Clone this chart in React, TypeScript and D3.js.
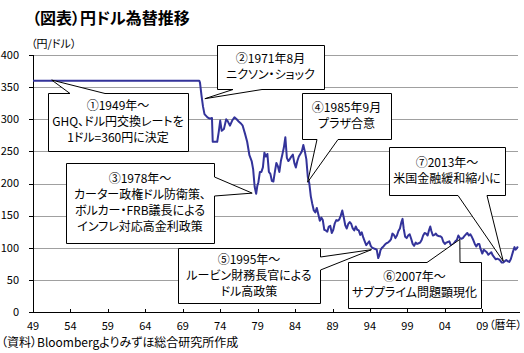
import React from 'react';
import * as d3 from 'd3';

// decimal year positions
const years = [
  1949.0, 1971.2, 1971.3, 1971.5, 1971.7, 1971.9, 1972.3, 1972.6, 1972.9, 1973.0,
  1973.3, 1973.6, 1973.8, 1974.0, 1974.2, 1974.5, 1974.8, 1975.0, 1975.3, 1975.6,
  1975.9, 1976.2, 1976.5, 1976.8, 1977.0, 1977.3, 1977.6, 1977.9, 1978.2, 1978.4,
  1978.6, 1978.8, 1978.95, 1979.1, 1979.3, 1979.5, 1979.7, 1979.9, 1980.1, 1980.3,
  1980.5, 1980.7, 1980.9, 1981.1, 1981.3, 1981.5, 1981.7, 1981.9, 1982.1, 1982.3,
  1982.5, 1982.7, 1982.9, 1983.1, 1983.3, 1983.5, 1983.7, 1983.9, 1984.1, 1984.3,
  1984.5, 1984.7, 1984.9, 1985.1, 1985.3, 1985.5, 1985.7, 1985.9, 1986.1, 1986.3,
  1986.5, 1986.7, 1986.9, 1987.1, 1987.3, 1987.5, 1987.7, 1987.9, 1988.1, 1988.3,
  1988.5, 1988.7, 1988.9, 1989.1, 1989.3, 1989.5, 1989.7, 1989.9, 1990.1, 1990.3,
  1990.5, 1990.7, 1990.9, 1991.1, 1991.3, 1991.5, 1991.7, 1991.9, 1992.1, 1992.3,
  1992.5, 1992.7, 1992.9, 1993.1, 1993.3, 1993.5, 1993.7, 1993.9, 1994.1, 1994.3,
  1994.5, 1994.7, 1994.9, 1995.1, 1995.25, 1995.4, 1995.6, 1995.8, 1996.0, 1996.2,
  1996.4, 1996.6, 1996.8, 1997.0, 1997.2, 1997.4, 1997.6, 1997.8, 1998.0, 1998.2,
  1998.35, 1998.5, 1998.7, 1998.9, 1999.1, 1999.3, 1999.5, 1999.7, 1999.9, 2000.1,
  2000.3, 2000.5, 2000.7, 2000.9, 2001.1, 2001.3, 2001.5, 2001.7, 2001.9, 2002.05,
  2002.2, 2002.4, 2002.6, 2002.8, 2003.0, 2003.2, 2003.4, 2003.6, 2003.8, 2004.0,
  2004.2, 2004.4, 2004.6, 2004.8, 2005.0, 2005.2, 2005.4, 2005.6, 2005.8, 2006.0,
  2006.2, 2006.4, 2006.6, 2006.9, 2007.0, 2007.2, 2007.4, 2007.6, 2007.8, 2008.0,
  2008.2, 2008.4, 2008.6, 2008.8, 2009.0, 2009.2, 2009.4, 2009.6, 2009.8, 2010.0,
  2010.2, 2010.4, 2010.6, 2010.8, 2011.0, 2011.2, 2011.4, 2011.6, 2011.8, 2012.0,
  2012.2, 2012.4, 2012.6, 2012.8, 2012.95, 2013.1, 2013.3, 2013.45, 2013.6, 2013.75,
];

// yen per dollar
const rates = [
  360, 360, 357, 337, 320, 308, 303, 301, 302, 265,
  265, 265, 280, 298, 282, 285, 300, 297, 290, 298,
  303, 300, 296, 293, 290, 278, 265, 244, 235, 222,
  195, 184, 196, 202, 218, 218, 225, 248, 242, 246,
  218, 215, 204, 203, 218, 232, 227, 218, 235, 245,
  256, 272, 240, 235, 238, 242, 245, 232, 225, 235,
  242, 246, 250, 260, 250, 238, 210, 200, 180, 168,
  158, 155, 162, 152, 142, 147, 143, 128, 127, 125,
  133, 134, 123, 128, 138, 143, 142, 144, 150, 158,
  147, 135, 130, 137, 140, 137, 130, 127, 133, 128,
  127, 120, 124, 116, 110, 104, 107, 110, 103, 100,
  99, 98, 97, 84, 88, 96, 100, 102, 105, 107,
  108, 110, 113, 122, 120, 115, 119, 126, 130, 140,
  145, 130, 117, 115, 119, 121, 114, 106, 103, 108,
  106, 107, 108, 112, 119, 123, 122, 119, 128, 133,
  126, 119, 120, 122, 119, 118, 118, 116, 109, 106,
  108, 109, 110, 104, 104, 107, 110, 112, 119, 115,
  114, 115, 118, 122, 123, 119, 121, 117, 112, 106,
  102, 106, 106, 97, 91, 97, 95, 93, 89, 91,
  93, 88, 85, 82, 83, 82, 80, 77, 77, 79,
  81, 79, 78, 82, 88, 94, 101, 97, 99, 102,
];

const xTickYears = [1949, 1954, 1959, 1964, 1969, 1974, 1979, 1984, 1989, 1994, 1999, 2004, 2009];
const xTickLabels = ['49', '54', '59', '64', '69', '74', '79', '84', '89', '94', '99', '04', '09'];
const yTicks = [0, 50, 100, 150, 200, 250, 300, 350, 400];

const title = '（図表）円ドル為替推移';
const unitLabel = '（円/ドル）';
const xUnitLabel = '（暦年）';
const source = '（資料）Bloombergよりみずほ総合研究所作成';

// callouts: text, box in px, wedge side/base in px, tip in data coords
const notes = [
  { lines: ['①1949年〜', 'GHQ、ドル円交換レートを', '1ドル=360円に決定'], box: [48, 93, 188, 151], side: 'top', base: [70, 105], tip: [1951.5, 361] },
  { lines: ['②1971年8月', 'ニクソン・ショック'], box: [217, 45, 324, 89], side: 'bottom', base: [233, 262], tip: [1971.95, 332] },
  { lines: ['③1978年〜', 'カーター政権ドル防衛策、', 'ボルカー・FRB議長による', 'インフレ対応高金利政策'], box: [66, 163, 214, 243], side: 'right', base: [177, 196], tip: [1978.27, 185] },
  { lines: ['④1985年9月', 'プラザ合意'], box: [302, 93, 391, 139], side: 'bottom', base: [317, 338], tip: [1985.67, 202] },
  { lines: ['⑤1995年〜', 'ルービン財務長官による', 'ドル高政策'], box: [178, 248, 320, 303], side: 'right', base: [257, 270], tip: [1994.2, 97] },
  { lines: ['⑥2007年〜', 'サブプライム問題顕現化'], box: [348, 262, 481, 308], side: 'top', base: [427, 460], tip: [2006.0, 113] },
  { lines: ['⑦2013年〜', '米国金融緩和縮小に'], box: [389, 147, 505, 195], side: 'bottom', base: [458, 487], tip: [2011.8, 79] },
];

const W = 524;
const H = 353;
const left = 33;
const right = 518;
const top = 55;
const bottom = 312;
const font = '"Noto Sans CJK JP", "Noto Sans", sans-serif';
const palt = { fontFeatureSettings: '"palt"' } as React.CSSProperties;

const calloutPath = (box: number[], side: string, base: number[], tip: number[]) => {
  const [x0, y0, x1, y1] = box.map((v) => Math.round(v) + 0.5);
  const [a, c] = base;
  const t = `L${tip[0]},${tip[1]}`;
  let d = `M${x0},${y0}`;
  if (side === 'top') d += `L${a},${y0}${t}L${c},${y0}`;
  d += `L${x1},${y0}`;
  if (side === 'right') d += `L${x1},${a}${t}L${x1},${c}`;
  d += `L${x1},${y1}`;
  if (side === 'bottom') d += `L${c},${y1}${t}L${a},${y1}`;
  d += `L${x0},${y1}Z`;
  return d;
};

export default function App() {
  const x = d3.scaleLinear().domain([1949, 2009]).range([left, 482.3]);
  const y = d3.scaleLinear().domain([0, 400]).range([bottom, top]);

  const series = years.map((yr, i) => [yr, rates[i]] as [number, number]);
  const line = d3
    .line<[number, number]>()
    .x((d) => x(d[0]))
    .y((d) => y(d[1]));

  return (
    <svg width={W} height={H} style={{ position: 'absolute', left: 0, top: 0, background: '#fff' }} fontFamily={font}>
      <rect width={W} height={H} fill="#fff" />
      <text x={32} y={24} fontSize={16} fontWeight="bold" style={palt}>{title}</text>
      <text x={31} y={48} fontSize={11} style={palt}>{unitLabel}</text>

      {/* gridlines + y axis */}
      {yTicks.map((v) => (
        <g key={v}>
          {v > 0 && (
            <line x1={left} x2={right} y1={Math.round(y(v)) + 0.5} y2={Math.round(y(v)) + 0.5} stroke="#a0a0a0" />
          )}
          <line x1={left - 4} x2={left} y1={Math.round(y(v)) + 0.5} y2={Math.round(y(v)) + 0.5} stroke="#000" />
          <text x={19} y={y(v)} dy="0.35em" fontSize={11} textAnchor="end">{v}</text>
        </g>
      ))}
      <line x1={left + 0.5} x2={left + 0.5} y1={top} y2={bottom + 0.5} stroke="#000" />
      <line x1={left} x2={right + 2} y1={bottom + 0.5} y2={bottom + 0.5} stroke="#000" />
      {xTickYears.map((yr, i) => (
        <g key={yr}>
          <line x1={Math.round(x(yr)) + 0.5} x2={Math.round(x(yr)) + 0.5} y1={bottom - 3} y2={bottom} stroke="#000" />
          <text x={x(yr)} y={326} dy="0.35em" fontSize={11} textAnchor="middle">{xTickLabels[i]}</text>
        </g>
      ))}
      <text x={489} y={325} dy="0.35em" fontSize={11} style={palt}>{xUnitLabel}</text>

      <path d={line(series) || ''} fill="none" stroke="#33339a" strokeWidth={2} strokeLinejoin="round" />

      {notes.map((n, i) => {
        const tip = [x(n.tip[0]), y(n.tip[1])];
        const [x0, y0, x1, y1] = n.box;
        const cx = (x0 + x1) / 2;
        const cy = (y0 + y1) / 2;
        const step = 16;
        return (
          <g key={i}>
            <path d={calloutPath(n.box, n.side, n.base, tip)} fill="#fff" stroke="#000" strokeWidth={1} />
            {n.lines.map((s, j) => (
              <text
                key={j}
                x={cx}
                y={cy + (j - (n.lines.length - 1) / 2) * step}
                dy="0.35em"
                fontSize={12}
                textAnchor="middle"
                style={palt}
              >
                {s}
              </text>
            ))}
          </g>
        );
      })}

      <text x={1} y={343} dy="0.35em" fontSize={12} style={palt}>{source}</text>
    </svg>
  );
}
